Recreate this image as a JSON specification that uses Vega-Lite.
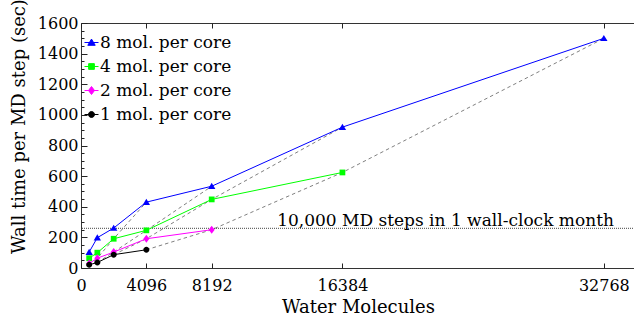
{
  "$schema": "https://vega.github.io/schema/vega-lite/v6.json",
  "width": 554,
  "height": 245,
  "autosize": {"type": "none"},
  "padding": {"left": 81, "top": 23, "right": 0, "bottom": 52},
  "background": "white",
  "config": {
    "view": {"stroke": "#333", "strokeWidth": 1},
    "font": "DejaVu Serif",
    "axis": {
      "grid": false, "domain": false, "tickColor": "#222", "tickWidth": 1,
      "labelColor": "#000", "titleColor": "#000",
      "labelFont": "DejaVu Serif", "titleFont": "DejaVu Serif",
      "labelFontSize": 16, "titleFontSize": 18, "titleFontWeight": "normal"
    }
  },
  "datasets": {
    "series": [
      {"series": "8 mol. per core", "x": 512, "y": 104},
      {"series": "8 mol. per core", "x": 1024, "y": 198},
      {"series": "8 mol. per core", "x": 2048, "y": 261},
      {"series": "8 mol. per core", "x": 4096, "y": 430},
      {"series": "8 mol. per core", "x": 8192, "y": 534},
      {"series": "8 mol. per core", "x": 16384, "y": 920},
      {"series": "8 mol. per core", "x": 32768, "y": 1500},
      {"series": "4 mol. per core", "x": 512, "y": 64},
      {"series": "4 mol. per core", "x": 1024, "y": 100},
      {"series": "4 mol. per core", "x": 2048, "y": 191},
      {"series": "4 mol. per core", "x": 4096, "y": 246},
      {"series": "4 mol. per core", "x": 8192, "y": 448},
      {"series": "4 mol. per core", "x": 16384, "y": 624},
      {"series": "2 mol. per core", "x": 512, "y": 30},
      {"series": "2 mol. per core", "x": 1024, "y": 64},
      {"series": "2 mol. per core", "x": 2048, "y": 104},
      {"series": "2 mol. per core", "x": 4096, "y": 191},
      {"series": "2 mol. per core", "x": 8192, "y": 250},
      {"series": "1 mol. per core", "x": 512, "y": 21},
      {"series": "1 mol. per core", "x": 1024, "y": 36},
      {"series": "1 mol. per core", "x": 2048, "y": 87},
      {"series": "1 mol. per core", "x": 4096, "y": 119}
    ],
    "ref": [
      {"cores": 512, "x": 512, "y": 21},
      {"cores": 512, "x": 1024, "y": 64},
      {"cores": 512, "x": 2048, "y": 191},
      {"cores": 512, "x": 4096, "y": 430},
      {"cores": 1024, "x": 1024, "y": 36},
      {"cores": 1024, "x": 2048, "y": 104},
      {"cores": 1024, "x": 4096, "y": 246},
      {"cores": 1024, "x": 8192, "y": 534},
      {"cores": 2048, "x": 2048, "y": 87},
      {"cores": 2048, "x": 4096, "y": 191},
      {"cores": 2048, "x": 8192, "y": 448},
      {"cores": 2048, "x": 16384, "y": 920},
      {"cores": 4096, "x": 4096, "y": 119},
      {"cores": 4096, "x": 8192, "y": 250},
      {"cores": 4096, "x": 16384, "y": 624},
      {"cores": 4096, "x": 32768, "y": 1500}
    ],
    "threshold": [
      {"y": 259.2, "x": 33400, "label": "10,000 MD steps in 1 wall-clock month"}
    ]
  },
  "layer": [
    {
      "data": {"name": "ref"},
      "mark": {"type": "line", "stroke": "#808080", "strokeWidth": 1, "strokeDash": [3.5, 3]},
      "encoding": {
        "x": {"field": "x", "type": "quantitative",
          "scale": {"domain": [0, 34720], "nice": false, "zero": false},
          "axis": {"orient": "bottom", "values": [0, 4096, 8192, 16384, 32768], "format": "d", "ticks": false,
            "labelPadding": 22, "labelBaseline": "alphabetic", "labelFlush": false,
            "title": "Water Molecules", "titleY": 44, "titleBaseline": "alphabetic"}},
        "y": {"field": "y", "type": "quantitative",
          "scale": {"domain": [0, 1600], "nice": false, "zero": false},
          "axis": {"orient": "left", "values": [0, 200, 400, 600, 800, 1000, 1200, 1400, 1600], "format": "d", "ticks": false,
            "labelPadding": 3, "labelBaseline": "middle", "labelFlush": false,
            "title": "Wall time per MD step (sec)", "titleX": -57, "titleY": 103, "titleAngle": 270,
            "titleBaseline": "alphabetic", "titleAlign": "center"}},
        "detail": {"field": "cores", "type": "nominal"}
      }
    },
    {
      "data": {"name": "threshold"},
      "mark": {"type": "rule", "stroke": "#444", "strokeWidth": 1, "strokeDash": [1, 1]},
      "encoding": {
        "y": {"field": "y", "type": "quantitative",
          "scale": {"domain": [0, 1600], "nice": false, "zero": false},
          "axis": {"orient": "left", "values": [50, 100, 150, 250, 300, 350, 450, 500, 550, 650, 700, 750, 850, 900, 950, 1050, 1100, 1150, 1250, 1300, 1350, 1450, 1500, 1550],
            "labels": false, "ticks": true, "tickSize": 3, "offset": -3, "title": null}}
      }
    },
    {
      "data": {"name": "threshold"},
      "mark": {"type": "text", "align": "right", "baseline": "alphabetic", "dy": -2, "font": "DejaVu Serif", "fontSize": 17, "color": "#000"},
      "encoding": {
        "x": {"field": "x", "type": "quantitative",
          "scale": {"domain": [0, 34720], "nice": false, "zero": false},
          "axis": {"orient": "top", "values": [0, 4096, 8192, 16384, 32768], "labels": false, "ticks": true, "tickSize": 5, "offset": -5, "title": null}},
        "y": {"field": "y", "type": "quantitative",
          "scale": {"domain": [0, 1600], "nice": false, "zero": false},
          "axis": {"orient": "left", "values": [0, 200, 400, 600, 800, 1000, 1200, 1400, 1600], "labels": false, "ticks": true, "tickSize": 6, "offset": -6, "title": null}},
        "text": {"field": "label"}
      }
    },
    {
      "data": {"name": "series"},
      "mark": {"type": "line", "strokeWidth": 1},
      "encoding": {
        "x": {"field": "x", "type": "quantitative",
          "scale": {"domain": [0, 34720], "nice": false, "zero": false},
          "axis": {"orient": "bottom", "values": [0, 4096, 8192, 16384, 32768], "labels": false, "ticks": true, "tickSize": 5, "offset": -5, "title": null}},
        "y": {"field": "y", "type": "quantitative",
          "scale": {"domain": [0, 1600], "nice": false, "zero": false}, "axis": null},
        "color": {"field": "series", "type": "nominal",
          "scale": {"domain": ["8 mol. per core", "4 mol. per core", "2 mol. per core", "1 mol. per core"],
                    "range": ["#0000ff", "#00ff00", "#ff00ff", "#000000"]}}
      }
    },
    {
      "data": {"name": "series"},
      "transform": [{"filter": "datum.series === '8 mol. per core'"}],
      "mark": {"type": "point", "filled": true, "opacity": 1, "size": 64, "color": "#0000ff", "shape": "M0,-0.85L0.92,0.7L-0.92,0.7Z"},
      "encoding": {
        "x": {"field": "x", "type": "quantitative", "scale": {"domain": [0, 34720], "nice": false, "zero": false}, "axis": null},
        "y": {"field": "y", "type": "quantitative", "scale": {"domain": [0, 1600], "nice": false, "zero": false}, "axis": null}
      }
    },
    {
      "data": {"name": "series"},
      "transform": [{"filter": "datum.series === '4 mol. per core'"}],
      "mark": {"type": "point", "filled": true, "opacity": 1, "size": 64, "color": "#00ff00", "shape": "M-0.72,-0.72L0.72,-0.72L0.72,0.72L-0.72,0.72Z"},
      "encoding": {
        "x": {"field": "x", "type": "quantitative", "scale": {"domain": [0, 34720], "nice": false, "zero": false}, "axis": null},
        "y": {"field": "y", "type": "quantitative", "scale": {"domain": [0, 1600], "nice": false, "zero": false}, "axis": null}
      }
    },
    {
      "data": {"name": "series"},
      "transform": [{"filter": "datum.series === '2 mol. per core'"}],
      "mark": {"type": "point", "filled": true, "opacity": 1, "size": 64, "color": "#ff00ff", "shape": "M0,-1L0.75,0L0,1L-0.75,0Z"},
      "encoding": {
        "x": {"field": "x", "type": "quantitative", "scale": {"domain": [0, 34720], "nice": false, "zero": false}, "axis": null},
        "y": {"field": "y", "type": "quantitative", "scale": {"domain": [0, 1600], "nice": false, "zero": false}, "axis": null}
      }
    },
    {
      "data": {"name": "series"},
      "transform": [{"filter": "datum.series === '1 mol. per core'"}],
      "mark": {"type": "point", "filled": true, "opacity": 1, "size": 64, "color": "#000000", "shape": "M0.75,0A0.75,0.75,0,1,1,-0.75,0A0.75,0.75,0,1,1,0.75,0Z"},
      "encoding": {
        "x": {"field": "x", "type": "quantitative", "scale": {"domain": [0, 34720], "nice": false, "zero": false}, "axis": null},
        "y": {"field": "y", "type": "quantitative", "scale": {"domain": [0, 1600], "nice": false, "zero": false}, "axis": null}
      }
    },
    {
      "data": {"name": "series"},
      "mark": {"type": "point", "filled": true, "opacity": 1, "size": 0},
      "encoding": {
        "x": {"field": "x", "type": "quantitative", "scale": {"domain": [0, 34720], "nice": false, "zero": false}, "axis": null},
        "y": {"field": "y", "type": "quantitative", "scale": {"domain": [0, 1600], "nice": false, "zero": false}, "axis": null},
        "color": {"field": "series", "type": "nominal",
          "scale": {"domain": ["8 mol. per core", "4 mol. per core", "2 mol. per core", "1 mol. per core"],
                    "range": ["#0000ff", "#00ff00", "#ff00ff", "#000000"]},
          "legend": {
            "title": null, "orient": "none", "legendX": 2, "legendY": 11, "padding": 0,
            "labelFont": "DejaVu Serif", "labelFontSize": 17, "labelColor": "#000",
            "labelOffset": 0, "rowPadding": 6, "symbolSize": 196, "symbolStrokeWidth": 1,
            "encoding": {
              "symbols": {
                "update": {
                  "size": {"value": 196},
                  "stroke": {"scale": "color", "field": "value"},
                  "strokeWidth": {"value": 1}
                }
              }
            }
          }},
        "shape": {"field": "series", "type": "nominal",
          "scale": {"domain": ["8 mol. per core", "4 mol. per core", "2 mol. per core", "1 mol. per core"],
                    "range": ["M-1,0L1,0M0,-0.49L0.53,0.4L-0.53,0.4Z", "M-1,0L1,0M-0.41,-0.41L0.41,-0.41L0.41,0.41L-0.41,0.41Z", "M-1,0L1,0M0,-0.57L0.43,0L0,0.57L-0.43,0Z", "M-1,0L1,0M0.43,0A0.43,0.43,0,1,1,-0.43,0A0.43,0.43,0,1,1,0.43,0Z"]}}
      }
    }
  ],
  "resolve": {"axis": {"x": "independent", "y": "independent"}}
}
